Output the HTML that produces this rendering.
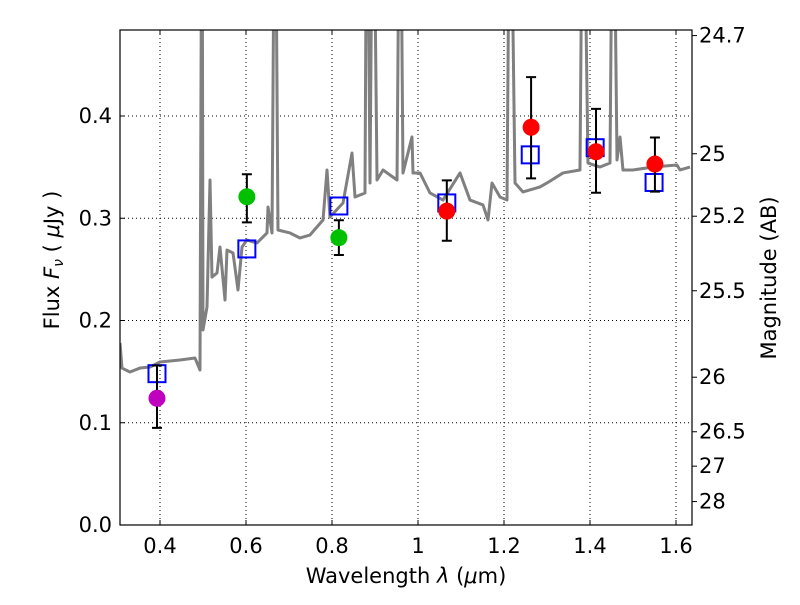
<!DOCTYPE html>
<html><head><meta charset="utf-8"><style>
body{margin:0;background:#fff;}
svg text{font-family:"DejaVu Sans","Liberation Sans",sans-serif;font-size:21px;fill:#000;}
</style></head><body>
<svg id="chart" width="800" height="600"></svg>
<script>
const specLam=[];const specFlux=[];
const specPx=[[120,343],[122,368],[130,372],[140,368],[150,367],[160,362],[170,361],[180,360],[195,358],[200,370],[202,-200],[203,330],[207,307],[210,180],[212,277],[217,273],[220,247],[225,300],[227,250],[233,253],[238,290],[242,247],[247,240],[257,243],[267,233],[268,207],[272,233],[275,-200],[278,230],[290,233],[300,238],[310,235],[323,220],[327,170],[330,217],[343,203],[352,153],[355,197],[365,193],[367,-200],[370,183],[373,-200],[377,180],[383,170],[397,180],[400,-200],[403,173],[412,137],[413,173],[420,173],[430,193],[443,200],[460,173],[470,200],[483,205],[488,220],[492,183],[500,197],[507,200],[510,-200],[515,183],[523,192],[540,187],[547,183],[563,173],[580,170],[583,-200],[588,163],[600,167],[610,163],[613,-200],[617,160],[620,137],[623,170],[633,170],[653,167],[677,165],[680,170],[690,167]];
// values (converted to wavelength / flux)
specPx.forEach(p=>{specLam.push(+(0.4+(p[0]-160)/430).toFixed(4));specFlux.push(+((525-p[1])/1022.5).toFixed(4));});
const photLam=[0.393,0.602,0.816,1.067,1.263,1.414,1.551];
const photFlux=[0.124,0.321,0.281,0.307,0.389,0.365,0.353];
const photHi=[0.156,0.343,0.298,0.337,0.438,0.407,0.379];
const photLo=[0.095,0.296,0.264,0.278,0.339,0.325,0.326];
const photColor=['#bf00bf','#00c000','#00c000','#ff0000','#ff0000','#ff0000','#ff0000'];
const modelLam=[0.393,0.602,0.816,1.067,1.261,1.412,1.549];
const modelFlux=[0.148,0.270,0.312,0.315,0.362,0.369,0.335];
const xTicks=[0.4,0.6,0.8,1.0,1.2,1.4,1.6];
const xTickLabels=['0.4','0.6','0.8','1','1.2','1.4','1.6'];
const yTicks=[0,0.1,0.2,0.3,0.4];
const yTickLabels=['0.0','0.1','0.2','0.3','0.4'];
const magTicks=[24.7,25,25.2,25.5,26,26.5,27,28];
const magTickLabels=['24.7','25','25.2','25.5','26','26.5','27','28'];

const L=120,R=692,T=30,B=525;
const X=v=>160+(v-0.4)*430;
const Y=v=>525-v*1022.5;
const svg=document.getElementById('chart');const NS='http://www.w3.org/2000/svg';
function mk(tag,attrs,parent){const e=document.createElementNS(NS,tag);for(const k in attrs)e.setAttribute(k,attrs[k]);(parent||svg).appendChild(e);return e;}
const defs=mk('defs',{});const cp=mk('clipPath',{id:'clip'},defs);mk('rect',{x:L,y:T,width:R-L,height:B-T},cp);
xTicks.forEach((t,i)=>{
 const g=mk('line',{x1:X(t),x2:X(t),y1:T,y2:B,stroke:'#000','stroke-width':1,'stroke-dasharray':'1,3'});
 
 const tk=mk('line',{x1:X(t),x2:X(t),y1:B,y2:B-5,stroke:'#000'});
 
 mk('line',{x1:X(t),x2:X(t),y1:T,y2:T+5,stroke:'#000'});
 const tx=mk('text',{x:X(t),y:B+28,'text-anchor':'middle'});tx.textContent=xTickLabels[i];
 
});
yTicks.forEach((t,i)=>{
 const g=mk('line',{x1:L,x2:R,y1:Y(t),y2:Y(t),stroke:'#000','stroke-width':1,'stroke-dasharray':'1,3'});
 
 const tk=mk('line',{x1:L,x2:L+5,y1:Y(t),y2:Y(t),stroke:'#000'});
 
 const tx=mk('text',{x:L-8,y:Y(t)+7,'text-anchor':'end'});tx.textContent=yTickLabels[i];
 
});
magTicks.forEach((m,i)=>{
 const y=Y(Math.pow(10,(23.9-m)/2.5));
 const tk=mk('line',{x1:R,x2:R+5,y1:y,y2:y,stroke:'#000'});
 
 const tx=mk('text',{x:R+7,y:y+7});tx.textContent=magTickLabels[i];
 
});
const sp=mk('polyline',{points:specLam.map((l,i)=>X(l)+','+Y(specFlux[i])).join(' '),fill:'none',stroke:'#808080','stroke-width':3,'stroke-linejoin':'round','clip-path':'url(#clip)'});

modelLam.forEach((l,i)=>{
 const r=mk('rect',{x:X(l)-8.5,y:Y(modelFlux[i])-8.5,width:17,height:17,fill:'none',stroke:'#0000ff','stroke-width':2});
 
});
photLam.forEach((l,i)=>{
 const x=X(l);
 const e=mk('path',{d:`M${x},${Y(photHi[i])}V${Y(photLo[i])}M${x-5},${Y(photHi[i])}h10M${x-5},${Y(photLo[i])}h10`,stroke:'#000','stroke-width':2,fill:'none'});
 
 const c=mk('circle',{cx:x,cy:Y(photFlux[i]),r:8.5,fill:photColor[i]});
 
});
const fr=mk('rect',{x:L,y:T,width:R-L,height:B-T,fill:'none',stroke:'#000','stroke-width':1.2});

const xl=mk('text',{x:406,y:583,'text-anchor':'middle'});xl.innerHTML='Wavelength  <tspan font-style="italic">λ</tspan> (<tspan font-style="italic">μ</tspan>m)';

const yl=mk('text',{x:0,y:0,'text-anchor':'middle',transform:'translate(59,260) rotate(-90)'});yl.innerHTML='Flux  <tspan font-style="italic">F<tspan font-size="14" dy="4">ν</tspan></tspan><tspan dy="-4">  (  </tspan><tspan font-style="italic">μ</tspan>Jy )';

const ml=mk('text',{x:0,y:0,'text-anchor':'middle',transform:'translate(776,278) rotate(-90)'});ml.textContent='Magnitude (AB)';

</script>
</body></html>
